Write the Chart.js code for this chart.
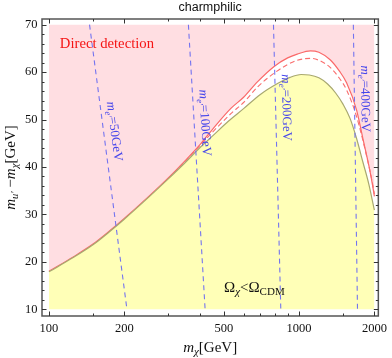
<!DOCTYPE html>
<html>
<head>
<meta charset="utf-8">
<script src="https://cdn.jsdelivr.net/npm/chart.js@4.4.0/dist/chart.umd.min.js"></script>
<style>
  html, body { margin: 0; padding: 0; background: #fff; }
  #wrap { width: 392px; height: 358px; }
</style>
</head>
<body>
<div id="wrap"><canvas id="c"></canvas></div>
<script>
// tick labels
const xTickLabels = [100, 200, 500, 1000, 2000];
const xMinorTicks = [150, 300, 400, 600, 700, 800, 900, 1500];
const yTickLabels = [10, 20, 30, 40, 50, 60, 70];

// relic density boundary (gray, yellow below)
const relicMass = [100, 125, 150, 175, 200, 250, 300, 350, 400, 450, 520, 600, 700, 820, 920, 1020, 1100, 1200, 1300, 1400, 1500, 1600, 1700, 1800, 1900, 2000];
const relicSplit = [17.9, 20.9, 23.6, 26.4, 29.0, 33.6, 37.5, 40.9, 44.0, 46.5, 49.6, 52.3, 55.3, 57.6, 58.9, 59.5, 59.4, 58.8, 57.5, 55.6, 53.2, 50.2, 45.9, 41.0, 36.4, 30.9];

// direct detection bound (red solid, pink above)
const ddMass = [100, 125, 150, 175, 200, 250, 300, 350, 400, 450, 535, 600, 683, 795, 900, 983, 1110, 1200, 1331, 1450, 1550, 1698, 1804, 1916, 1960, 2000];
const ddSplit = [18.0, 21.05, 23.75, 26.55, 29.15, 33.75, 37.7, 41.3, 44.6, 47.9, 52.4, 54.7, 58.0, 61.2, 63.0, 63.8, 64.5, 64.2, 62.6, 60.2, 57.7, 52.0, 45.7, 39.4, 36.6, 33.8];

// future direct detection (red dashed)
const ddFutureMass = [300, 350, 400, 450, 535, 600, 683, 800, 900, 983, 1110, 1200, 1331, 1450, 1550, 1698, 1860, 1960, 2000];
const ddFutureSplit = [37.6, 41.2, 44.4, 47.3, 51.3, 53.6, 56.9, 59.9, 61.6, 62.5, 62.9, 62.5, 61.0, 58.7, 56.2, 50.6, 42.4, 36.9, 34.3];

// constant m_e' contours (blue dashed): m_X at split 70 and at split 10
const eMass = ['50', '100', '200', '400'];
const eLineTop = [145.3, 361, 790, 1648];
const eLineBottom = [205, 421, 845, 1712];

const toXY = (xs, ys) => xs.map((v, i) => ({ x: v, y: ys[i] }));
const serif = '"Liberation Serif", "DejaVu Serif", serif';
const it = (s) => `italic ${s}px ${serif}`;
const rm = (s) => `${s}px ${serif}`;

function drawRuns(ctx, runs, x, y, align) {
  let w = 0;
  runs.forEach((r) => { ctx.font = r.font; w += ctx.measureText(r.t).width; });
  let cx = align === 'center' ? x - w / 2 : x;
  runs.forEach((r) => {
    ctx.font = r.font;
    ctx.fillText(r.t, cx, y + (r.dy || 0));
    cx += ctx.measureText(r.t).width;
  });
}

const decor = {
  id: 'decor',
  afterDatasetsDraw(chart) {
    const { ctx, chartArea: a, scales: { x, y } } = chart;
    ctx.save();
    ctx.textAlign = 'left';
    ctx.textBaseline = 'alphabetic';

    // labels along blue lines
    const labelStart = [53.5, 56.2, 59.5, 61.4];
    ctx.fillStyle = 'rgb(70,70,235)';
    eMass.forEach((m, i) => {
      const x1 = x.getPixelForValue(eLineTop[i]), y1 = y.getPixelForValue(70);
      const x2 = x.getPixelForValue(eLineBottom[i]), y2 = y.getPixelForValue(10);
      const th = Math.atan2(y2 - y1, x2 - x1);
      const py = y.getPixelForValue(labelStart[i]);
      const lx = x1 + (py - y1) / (y2 - y1) * (x2 - x1);
      const off = 7;
      ctx.save();
      ctx.translate(lx + off * Math.sin(th), py - off * Math.cos(th));
      ctx.rotate(th);
      drawRuns(ctx, [
        { t: 'm', font: it(13) },
        { t: 'e′', font: it(9), dy: 3 },
        { t: '=' + m + 'GeV', font: rm(13) },
      ], 0, 0);
      ctx.restore();
    });

    // region labels
    ctx.fillStyle = 'rgb(245,20,20)';
    ctx.font = rm(14.7);
    ctx.fillText('Direct detection', x.getPixelForValue(110.5), y.getPixelForValue(65));

    ctx.fillStyle = '#111';
    drawRuns(ctx, [
      { t: 'Ω', font: rm(15) },
      { t: 'χ', font: it(11), dy: 3 },
      { t: '<', font: rm(15) },
      { t: 'Ω', font: rm(15) },
      { t: 'CDM', font: rm(11), dy: 3 },
    ], x.getPixelForValue(501), y.getPixelForValue(13.6));

    // frame + inward ticks
    ctx.strokeStyle = '#555';
    ctx.lineWidth = 1.5;
    ctx.strokeRect(a.left, a.top, a.right - a.left, a.bottom - a.top);
    ctx.lineWidth = 1;
    ctx.strokeStyle = '#333';
    ctx.beginPath();
    const xt = (v, len) => {
      const p = Math.round(x.getPixelForValue(v)) + 0.5;
      ctx.moveTo(p, a.bottom); ctx.lineTo(p, a.bottom - len);
      ctx.moveTo(p, a.top); ctx.lineTo(p, a.top + len);
    };
    const yt = (v, len) => {
      const p = Math.round(y.getPixelForValue(v)) + 0.5;
      ctx.moveTo(a.left, p); ctx.lineTo(a.left + len, p);
      ctx.moveTo(a.right, p); ctx.lineTo(a.right - len, p);
    };
    xTickLabels.forEach((v) => xt(v, 4.5));
    xMinorTicks.forEach((v) => xt(v, 2.5));
    yTickLabels.forEach((v) => yt(v, 4.5));
    for (let v = 12; v < 70; v += 2) if (v % 10) yt(v, 2.5);
    ctx.stroke();

    // title
    ctx.fillStyle = '#111';
    ctx.font = '12.5px "Liberation Sans", Arial, sans-serif';
    ctx.textAlign = 'center';
    ctx.fillText('charmphilic', (a.left + a.right) / 2, 10.5);

    // axis titles
    ctx.textAlign = 'left';
    drawRuns(ctx, [
      { t: 'm', font: it(15) },
      { t: 'χ', font: it(11), dy: 3 },
      { t: '[GeV]', font: rm(15) },
    ], (a.left + a.right) / 2, 352, 'center');

    ctx.save();
    ctx.translate(14.5, (a.top + a.bottom) / 2);
    ctx.rotate(-Math.PI / 2);
    drawRuns(ctx, [
      { t: 'm', font: it(15) },
      { t: 'u′', font: it(10.5), dy: 3 },
      { t: ' −', font: rm(15) },
      { t: 'm', font: it(15) },
      { t: 'χ', font: it(11), dy: 3 },
      { t: '[GeV]', font: rm(15) },
    ], 0, 0, 'center');
    ctx.restore();

    ctx.restore();
  },
};

const datasets = [];
eMass.forEach((m, i) => {
  datasets.push({
    label: 'm_e\' = ' + m + ' GeV',
    data: [{ x: eLineTop[i], y: 70 }, { x: eLineBottom[i], y: 10 }],
    borderColor: 'rgb(115,115,240)',
    borderWidth: 1.1,
    borderDash: [5, 4],
    pointRadius: 0,
    fill: false,
    order: 0,
  });
});
datasets.push({
  label: 'relic',
  data: toXY(relicMass, relicSplit),
  borderColor: 'rgb(168,168,112)',
  borderWidth: 1.2,
  backgroundColor: 'rgb(255,255,183)',
  fill: { value: 10 },
  pointRadius: 0,
  cubicInterpolationMode: 'monotone',
  order: 1,
});
datasets.push({
  label: 'dd future',
  data: toXY(ddFutureMass, ddFutureSplit),
  borderColor: 'rgb(250,110,110)',
  borderWidth: 1.1,
  borderDash: [5, 3],
  pointRadius: 0,
  fill: false,
  cubicInterpolationMode: 'monotone',
  order: 2,
});
datasets.push({
  label: 'dd',
  data: toXY(ddMass, ddSplit),
  borderColor: 'rgb(250,105,105)',
  borderWidth: 1.2,
  backgroundColor: 'rgb(255,222,226)',
  fill: { value: 70 },
  pointRadius: 0,
  cubicInterpolationMode: 'monotone',
  order: 3,
});

new Chart(document.getElementById('c'), {
  type: 'line',
  data: { datasets },
  options: {
    responsive: true,
    maintainAspectRatio: false,
    devicePixelRatio: 1,
    animation: false,
    layout: { padding: { top: 19, right: 10, left: 0, bottom: 0 } },
    plugins: { legend: { display: false }, title: { display: false }, tooltip: { enabled: false } },
    scales: {
      x: {
        type: 'logarithmic',
        min: 93.8,
        max: 2074,
        afterBuildTicks: (s) => { s.ticks = xTickLabels.map((v) => ({ value: v })); },
        afterFit: (s) => { s.height = 42; },
        grid: { display: false, drawTicks: false },
        border: { display: false },
        ticks: {
          autoSkip: false,
          maxRotation: 0,
          padding: 5,
          color: '#111',
          font: { family: 'Liberation Serif', size: 12.5 },
          callback: (v) => String(v),
        },
      },
      y: {
        type: 'linear',
        min: 8.59,
        max: 71.2,
        afterBuildTicks: (s) => { s.ticks = yTickLabels.map((v) => ({ value: v })); },
        afterFit: (s) => { s.width = 42; },
        grid: { display: false, drawTicks: false },
        border: { display: false },
        ticks: {
          padding: 4.5,
          color: '#111',
          font: { family: 'Liberation Serif', size: 12.5 },
        },
      },
    },
  },
  plugins: [decor],
});
</script>
</body>
</html>
